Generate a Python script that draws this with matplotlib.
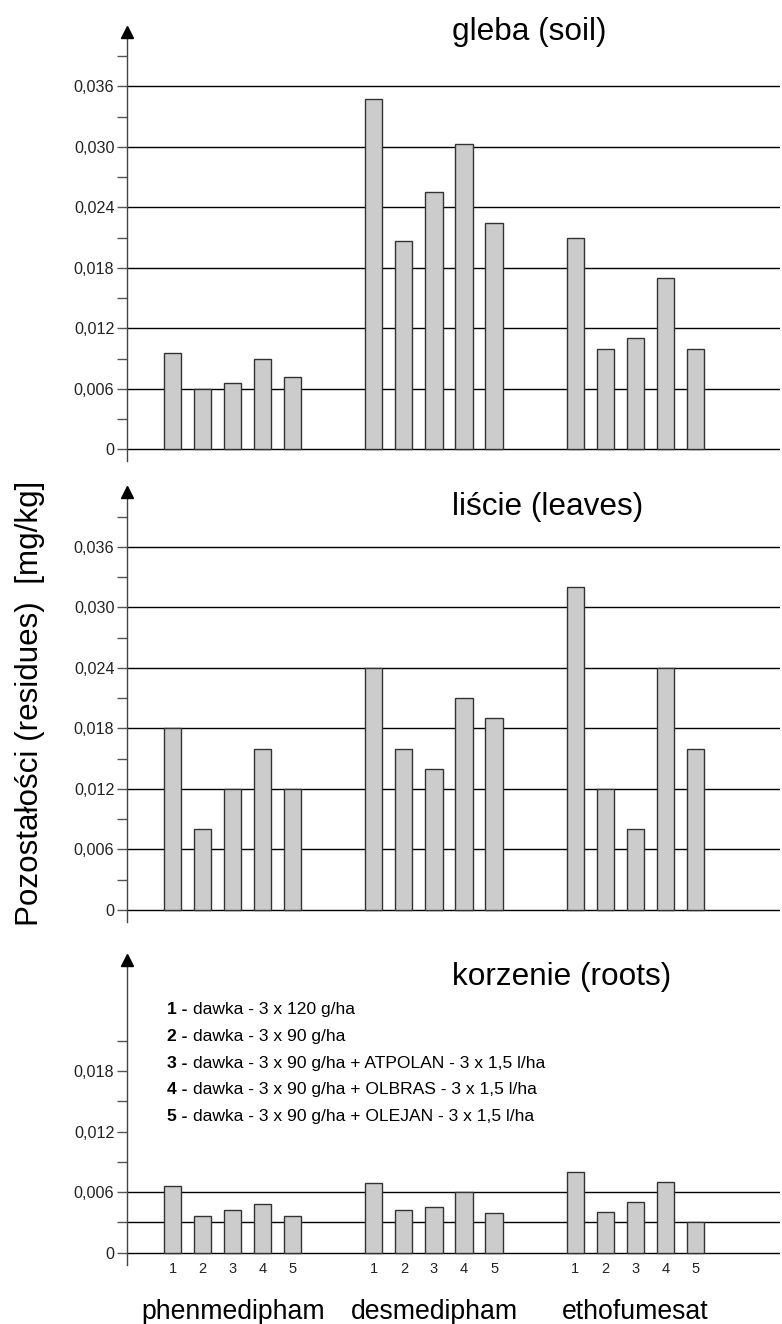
import matplotlib
matplotlib.use("Agg")
import matplotlib.pyplot as plt
import numpy as np

plt.rcParams['font.family'] = ['Liberation Sans', 'DejaVu Sans']

# data (mg/kg)
groups = ['phenmedipham', 'desmedipham', 'ethofumesat']
doses = ['1', '2', '3', '4', '5']
soil = [[0.0096, 0.0060, 0.0066, 0.0090, 0.0072],
        [0.0348, 0.0207, 0.0255, 0.0303, 0.0225],
        [0.0210, 0.0100, 0.0110, 0.0170, 0.0100]]
leaves = [[0.018, 0.008, 0.012, 0.016, 0.012],
          [0.024, 0.016, 0.014, 0.021, 0.019],
          [0.032, 0.012, 0.008, 0.024, 0.016]]
roots = [[0.0066, 0.0036, 0.0042, 0.0048, 0.0036],
         [0.0069, 0.0042, 0.0045, 0.0060, 0.0039],
         [0.0080, 0.0040, 0.0050, 0.0070, 0.0030]]
legend_bold = ['1 -', '2 -', '3 -', '4 -', '5 -']
legend_text = ['dawka - 3 x 120 g/ha',
               'dawka - 3 x 90 g/ha',
               'dawka - 3 x 90 g/ha + ATPOLAN - 3 x 1,5 l/ha',
               'dawka - 3 x 90 g/ha + OLBRAS - 3 x 1,5 l/ha',
               'dawka - 3 x 90 g/ha + OLEJAN - 3 x 1,5 l/ha']

W, H = 782, 1324
fig = plt.figure(figsize=(W / 100, H / 100), dpi=100)

GAP = 6.7
x_pos = [g * GAP + np.arange(5) for g in range(3)]
XMIN, XMAX = -1.52, 4 + 2 * GAP + 2.82


def px_axes(left, top, right, bottom):
    return fig.add_axes([left / W, 1 - bottom / H, (right - left) / W, (bottom - top) / H])


def fmt(v):
    return '0' if v == 0 else ('%.3f' % v).replace('.', ',')


def panel(ax, data, title, ymax, major, minor, grid, title_y=1.0):
    ax.set_xlim(XMIN, XMAX)
    ax.set_ylim(-0.0012, ymax)
    for s in ['top', 'right', 'bottom']:
        ax.spines[s].set_visible(False)
    ax.spines['left'].set_color('#444444')
    ax.spines['left'].set_linewidth(1.0)
    ax.plot(0, 1, marker='^', color='black', markersize=9, transform=ax.transAxes,
            clip_on=False, zorder=5)
    for g in grid:
        ax.axhline(g, color='black', lw=1.0, zorder=1)
    for g in range(3):
        ax.bar(x_pos[g], data[g], width=0.57, color='#cccccc', edgecolor='#333333',
               linewidth=1.0, zorder=2)
    ax.set_yticks(major)
    ax.set_yticklabels([fmt(v) for v in major])
    ax.set_yticks(minor, minor=True)
    ax.tick_params(axis='y', which='both', direction='out', length=7, width=1,
                   color='#555555', labelsize=11.6, labelcolor='#222222', pad=2)
    ax.set_xticks([])
    ax.text(0.497, title_y, title, transform=ax.transAxes, fontsize=22.7, ha='left', va='top')


major_big = np.arange(0, 0.0361, 0.006)
minor_big = np.arange(0.003, 0.0391, 0.006)

ax1 = px_axes(127, 32, 780, 461.4)
panel(ax1, soil, 'gleba (soil)', 0.0414, major_big, minor_big, major_big, title_y=1.036)

ax2 = px_axes(127, 492.5, 780, 922.1)
panel(ax2, leaves, 'liście (leaves)', 0.0414, major_big, minor_big, major_big)

ax3 = px_axes(127, 960.3, 780, 1264.8)
panel(ax3, roots, 'korzenie (roots)', 0.029,
      np.arange(0, 0.0181, 0.006), np.arange(0.003, 0.0211, 0.006), [0, 0.003, 0.006],
      title_y=0.995)

# legend inside roots panel
for i in range(5):
    yv = 0.0241 - i * 0.00265
    ax3.text(0.061, yv, legend_bold[i], transform=ax3.get_yaxis_transform(),
             fontsize=12.6, fontweight='bold', va='center', ha='left')
    ax3.text(0.101, yv, legend_text[i], transform=ax3.get_yaxis_transform(),
             fontsize=12.6, va='center', ha='left')

# dose labels under bars
for g in range(3):
    for x, d in zip(x_pos[g], doses):
        ax3.text(x, -0.0016, d, fontsize=10.5, ha='center', va='center', color='#222222')

# group names
for g in range(3):
    xc = ax3.transData.transform((x_pos[g].mean(), 0))[0] / W
    fig.text(xc, 5 / H, groups[g], fontsize=19.2, ha='center', va='baseline')

fig.text(30 / W, 1 - 703 / H, 'Pozostałości (residues)  [mg/kg]', rotation=90,
         fontsize=22.6, ha='center', va='center')

fig.savefig('out.png', dpi=100)
